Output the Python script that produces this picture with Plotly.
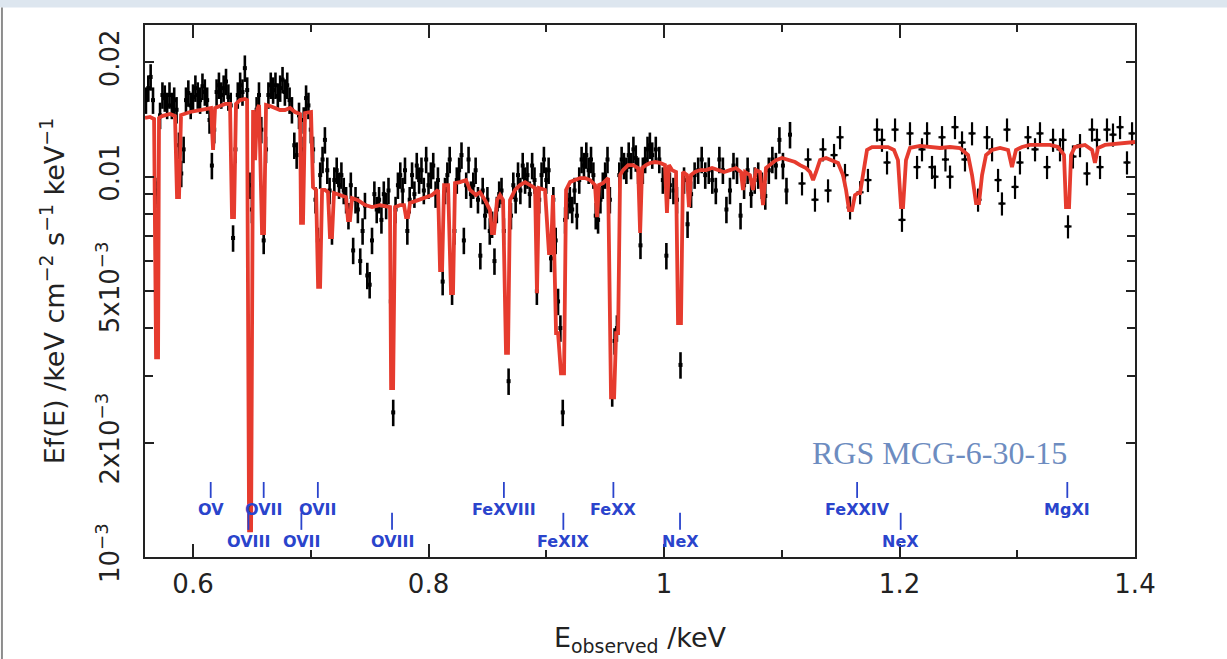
import plotly.graph_objects as go

# ---------------- model (red) ----------------
model_energy = [
    0.5592, 0.5635, 0.5669, 0.5686, 0.5703, 0.5711, 0.5737, 0.5805, 0.5847, 0.5864,
    0.5881, 0.5898, 0.5975, 0.6059, 0.6153, 0.6170, 0.6187, 0.6229, 0.6272, 0.6314,
    0.6331, 0.6348, 0.6365, 0.6399, 0.6442, 0.6459, 0.6476, 0.6493, 0.6510, 0.6527,
    0.6544, 0.6561, 0.6586, 0.6603, 0.6620, 0.6654, 0.6696, 0.6739, 0.6781, 0.6824,
    0.6866, 0.6909, 0.6917, 0.6934, 0.6951, 0.6977, 0.7002, 0.7019, 0.7045, 0.7062,
    0.7079, 0.7096, 0.7121, 0.7146, 0.7163, 0.7180, 0.7197, 0.7248, 0.7299, 0.7316,
    0.7333, 0.7350, 0.7401, 0.7461, 0.7520, 0.7588, 0.7639, 0.7673, 0.7682, 0.7699,
    0.7716, 0.7758, 0.7792, 0.7809, 0.7826, 0.7843, 0.7911, 0.7970, 0.8030, 0.8081,
    0.8098, 0.8115, 0.8132, 0.8166, 0.8191, 0.8208, 0.8225, 0.8268, 0.8318, 0.8352,
    0.8403, 0.8437, 0.8480, 0.8522, 0.8539, 0.8556, 0.8582, 0.8607, 0.8633, 0.8658,
    0.8675, 0.8692, 0.8735, 0.8777, 0.8820, 0.8862, 0.8905, 0.8921, 0.8938, 0.8989,
    0.9023, 0.9040, 0.9057, 0.9083, 0.9100, 0.9125, 0.9151, 0.9168, 0.9202, 0.9244,
    0.9287, 0.9329, 0.9372, 0.9414, 0.9431, 0.9448, 0.9482, 0.9525, 0.9550, 0.9576,
    0.9593, 0.9610, 0.9627, 0.9652, 0.9695, 0.9737, 0.9780, 0.9797, 0.9814, 0.9847,
    0.9881, 0.9924, 0.9966, 1.0008, 1.0025, 1.0042, 1.0068, 1.0102, 1.0119, 1.0144,
    1.0161, 1.0195, 1.0212, 1.0229, 1.0263, 1.0306, 1.0357, 1.0408, 1.0459, 1.0510,
    1.0560, 1.0611, 1.0654, 1.0671, 1.0688, 1.0730, 1.0756, 1.0781, 1.0815, 1.0841,
    1.0866, 1.0900, 1.0951, 1.1002, 1.1053, 1.1113, 1.1155, 1.1206, 1.1240, 1.1266,
    1.1291, 1.1325, 1.1376, 1.1427, 1.1478, 1.1520, 1.1546, 1.1571, 1.1597, 1.1622,
    1.1648, 1.1665, 1.1690, 1.1724, 1.1767, 1.1834, 1.1902, 1.1953, 1.1987, 1.2013,
    1.2030, 1.2055, 1.2089, 1.2174, 1.2259, 1.2344, 1.2429, 1.2514, 1.2582, 1.2616,
    1.2650, 1.2675, 1.2701, 1.2735, 1.2786, 1.2854, 1.2922, 1.2955, 1.2989, 1.3040,
    1.3108, 1.3193, 1.3278, 1.3346, 1.3397, 1.3414, 1.3440, 1.3457, 1.3490, 1.3575,
    1.3635, 1.3660, 1.3686, 1.3745, 1.3830, 1.3915, 1.4000,
]
model_flux = [
    0.01427, 0.01436, 0.01419, 0.00335, 0.00335, 0.01427, 0.01444, 0.01462, 0.01444, 0.00884,
    0.00884, 0.01453, 0.01480, 0.01498, 0.01516, 0.01176, 0.01516, 0.01535, 0.01554, 0.01554,
    0.00783, 0.00783, 0.01554, 0.01591, 0.01601, 0.01591, 0.001175, 0.001175, 0.01498, 0.01106,
    0.01498, 0.01544, 0.00711, 0.00711, 0.01544, 0.01535, 0.01516, 0.01498, 0.01498, 0.01516,
    0.01480, 0.01462, 0.00756, 0.00756, 0.01471, 0.01480, 0.01480, 0.00939, 0.00923, 0.00513,
    0.00513, 0.00923, 0.00923, 0.00911, 0.00694, 0.00694, 0.00906, 0.00895, 0.00884, 0.00769,
    0.00769, 0.00879, 0.00868, 0.00842, 0.00832, 0.00842, 0.00837, 0.00832, 0.00278, 0.00278,
    0.00832, 0.00842, 0.00842, 0.00783, 0.00783, 0.00853, 0.00868, 0.00879, 0.00895, 0.00923,
    0.00568, 0.00568, 0.00951, 0.00951, 0.00494, 0.00494, 0.00962, 0.00968, 0.00980, 0.00923,
    0.00895, 0.00911, 0.00868, 0.00817, 0.00711, 0.00711, 0.00868, 0.00895, 0.00868, 0.00344,
    0.00344, 0.00868, 0.00923, 0.00951, 0.00968, 0.00951, 0.00934, 0.00494, 0.00934, 0.00923,
    0.00630, 0.00630, 0.00895, 0.00388, 0.00388, 0.00304, 0.00304, 0.00923, 0.00968, 0.00980,
    0.00992, 0.00992, 0.00980, 0.00951, 0.00783, 0.00951, 0.00962, 0.00992, 0.00263, 0.00263,
    0.00388, 0.00388, 0.01010, 0.01041, 0.01073, 0.01073, 0.01054, 0.00711, 0.01054, 0.01073,
    0.01087, 0.01093, 0.01087, 0.01073, 0.00803, 0.01073, 0.01041, 0.01029, 0.00412, 0.00412,
    0.01029, 0.01010, 0.00832, 0.01010, 0.01029, 0.01041, 0.01041, 0.01054, 0.01041, 0.01029,
    0.01041, 0.01054, 0.01029, 0.00923, 0.01029, 0.01010, 0.00923, 0.01041, 0.01029, 0.00842,
    0.01054, 0.01073, 0.01106, 0.01120, 0.01106, 0.01093, 0.01073, 0.01054, 0.01029, 0.00980,
    0.01029, 0.01106, 0.01120, 0.01106, 0.01087, 0.01010, 0.00923, 0.00817, 0.00817, 0.00895,
    0.00906, 0.00906, 0.01010, 0.01176, 0.01197, 0.01197, 0.01197, 0.01176, 0.01106, 0.00832,
    0.00832, 0.01106, 0.01190, 0.01205, 0.01197, 0.01190, 0.01197, 0.01190, 0.01141, 0.01010,
    0.00853, 0.00853, 0.01010, 0.01141, 0.01176, 0.01190, 0.01176, 0.01060, 0.01176, 0.01197,
    0.01212, 0.01212, 0.01212, 0.01197, 0.01141, 0.00832, 0.00832, 0.01141, 0.01197, 0.01212,
    0.01176, 0.01087, 0.01190, 0.01212, 0.01219, 0.01227, 0.01234,
]

# ---------------- data (black), fine bins ----------------
data_energy_fine = [
    0.560, 0.562, 0.564, 0.566, 0.568, 0.570, 0.572, 0.574, 0.576, 0.578,
    0.580, 0.582, 0.584, 0.586, 0.588, 0.590, 0.592, 0.594, 0.596, 0.598,
    0.600, 0.602, 0.604, 0.606, 0.608, 0.610, 0.612, 0.614, 0.616, 0.618,
    0.620, 0.622, 0.624, 0.626, 0.628, 0.630, 0.632, 0.634, 0.636, 0.638,
    0.640, 0.642, 0.644, 0.646, 0.648, 0.650, 0.652, 0.654, 0.656, 0.658,
    0.660, 0.662, 0.664, 0.666, 0.668, 0.670, 0.672, 0.674, 0.676, 0.678,
    0.680, 0.682, 0.684, 0.686, 0.688, 0.690, 0.692, 0.694, 0.696, 0.698,
    0.700, 0.702, 0.704, 0.706, 0.708, 0.710, 0.712, 0.714, 0.716, 0.718,
    0.720, 0.722, 0.724, 0.726, 0.728, 0.730, 0.732, 0.734, 0.736, 0.738,
    0.740, 0.742, 0.744, 0.746, 0.748, 0.750, 0.752, 0.754, 0.756, 0.758,
    0.760, 0.762, 0.764, 0.766, 0.768, 0.770, 0.772, 0.774, 0.776, 0.778,
    0.780, 0.782, 0.784, 0.786, 0.788, 0.790, 0.792, 0.794, 0.796, 0.798,
    0.800, 0.802, 0.804, 0.806, 0.808, 0.810, 0.812, 0.814, 0.816, 0.818,
    0.820, 0.822, 0.824, 0.826, 0.828, 0.830, 0.832, 0.834, 0.836, 0.838,
    0.840, 0.842, 0.844, 0.846, 0.848, 0.850, 0.852, 0.854, 0.856, 0.858,
    0.860, 0.862, 0.864, 0.866, 0.868, 0.870, 0.872, 0.874, 0.876, 0.878,
    0.880, 0.882, 0.884, 0.886, 0.888, 0.890, 0.892, 0.894, 0.896, 0.898,
    0.900, 0.902, 0.904, 0.906, 0.908, 0.910, 0.912, 0.914, 0.916, 0.918,
    0.920, 0.922, 0.924, 0.926, 0.928, 0.930, 0.932, 0.934, 0.936, 0.938,
    0.940, 0.942, 0.944, 0.946, 0.948, 0.950, 0.952, 0.954, 0.956, 0.958,
    0.960, 0.962, 0.964, 0.966, 0.968, 0.970, 0.972, 0.974, 0.976, 0.978,
    0.980, 0.982, 0.984, 0.986, 0.988, 0.990,
    0.993, 0.996, 0.999, 1.002, 1.005, 1.008, 1.011, 1.014, 1.017, 1.020,
    1.023, 1.026, 1.029, 1.032, 1.035, 1.038, 1.041, 1.044, 1.047, 1.050,
    1.053, 1.056, 1.059, 1.062, 1.065, 1.068, 1.071, 1.074, 1.077, 1.080,
    1.083, 1.086, 1.089, 1.092, 1.095, 1.098, 1.101, 1.104, 1.107,
]
data_flux_fine = [
    0.0159, 0.0171, 0.0183, 0.0159, 0.0092, 0.0090, 0.0145, 0.0164, 0.0161, 0.0154,
    0.0164, 0.0154, 0.0159, 0.0150, 0.0121, 0.0102, 0.0118, 0.0159, 0.0166, 0.0154,
    0.0162, 0.0171, 0.0164, 0.0159, 0.0173, 0.0167, 0.0159, 0.0141, 0.0107, 0.0133,
    0.0167, 0.0174, 0.0164, 0.0171, 0.0178, 0.0162, 0.0154, 0.0069, 0.0118, 0.0164,
    0.0174, 0.0167, 0.0193, 0.0169, 0.0095, 0.0082, 0.0125, 0.0150, 0.0164, 0.0133,
    0.0068, 0.0118, 0.0164, 0.0174, 0.0169, 0.0174, 0.0163, 0.0171, 0.0180, 0.0167,
    0.0174, 0.0159, 0.0150, 0.0121, 0.0114, 0.0145, 0.0118, 0.0141, 0.0161, 0.0154,
    0.0133, 0.0118, 0.0087, 0.0068, 0.0101, 0.0111, 0.0125, 0.0104, 0.0092, 0.0072,
    0.0098, 0.0104, 0.0095, 0.0101, 0.0092, 0.0087, 0.0079, 0.0095, 0.0064, 0.0087,
    0.0082, 0.0060, 0.0072, 0.0084, 0.0055, 0.0052, 0.0068, 0.0090, 0.0082, 0.0087,
    0.0077, 0.0090, 0.0084, 0.0092, 0.0047, 0.0024, 0.0082, 0.0095, 0.0101, 0.0092,
    0.0104, 0.0072, 0.0087, 0.0101, 0.0090, 0.0107, 0.0098, 0.0104, 0.0092, 0.0111,
    0.0095, 0.0101, 0.0107, 0.0090, 0.0098, 0.0064, 0.0053, 0.0092, 0.0101, 0.0111,
    0.0050, 0.0072, 0.0098, 0.0104, 0.0114, 0.0068, 0.0095, 0.0111, 0.0090, 0.0095,
    0.0104, 0.0087, 0.0062, 0.0092, 0.0079, 0.0087, 0.0072, 0.0075, 0.0060, 0.0082,
    0.0090, 0.0092, 0.0072, 0.0040, 0.0029, 0.0079, 0.0095, 0.0087, 0.0101, 0.0092,
    0.0107, 0.0098, 0.0101, 0.0090, 0.0107, 0.0098, 0.0050, 0.0087, 0.0101, 0.0111,
    0.0098, 0.0104, 0.0061, 0.0087, 0.0068, 0.0047, 0.0040, 0.0024, 0.0077, 0.0084,
    0.0087, 0.0082, 0.0092, 0.0079, 0.0098, 0.0111, 0.0107, 0.0114, 0.0104, 0.0111,
    0.0101, 0.0079, 0.0077, 0.0087, 0.0095, 0.0101, 0.0111, 0.0087, 0.0027, 0.0037,
    0.0040, 0.0101, 0.0111, 0.0107, 0.0104, 0.0114, 0.0107, 0.0118, 0.0112, 0.0104,
    0.0066, 0.0104, 0.0111, 0.0118, 0.0121, 0.0114,
    0.0118, 0.0111, 0.0098, 0.0062, 0.0095, 0.0092, 0.0087, 0.0032, 0.0098, 0.0075,
    0.0090, 0.0101, 0.0104, 0.0111, 0.0101, 0.0104, 0.0098, 0.0092, 0.0111, 0.0104,
    0.0082, 0.0092, 0.0107, 0.0104, 0.0079, 0.0095, 0.0104, 0.0090, 0.0098, 0.0101,
    0.0095, 0.0089, 0.0104, 0.0111, 0.0107, 0.0125, 0.0107, 0.0092, 0.0129,
]

# ---------------- data (black), coarse bins ----------------
data_energy_coarse = [
    1.1172, 1.1223, 1.1282, 1.1350, 1.1393, 1.1444, 1.1495, 1.1537, 1.1580, 1.1665,
    1.1732, 1.1809, 1.1851, 1.1894, 1.1962, 1.2021, 1.2089, 1.2149, 1.2191, 1.2234,
    1.2276, 1.2301, 1.2361, 1.2390, 1.2429, 1.2471, 1.2531, 1.2556, 1.2616, 1.2667,
    1.2743, 1.2786, 1.2837, 1.2870, 1.2913, 1.2981, 1.3023, 1.3091, 1.3151, 1.3193,
    1.3253, 1.3304, 1.3363, 1.3389, 1.3431, 1.3473, 1.3533, 1.3592, 1.3635, 1.3677,
    1.3703, 1.3762, 1.3813, 1.3873, 1.3932, 1.3975,
]
data_flux_coarse = [
    0.0096, 0.0111, 0.0087, 0.0118, 0.0092, 0.0114, 0.0127, 0.0101, 0.0083, 0.0091,
    0.0098, 0.0133, 0.0125, 0.0109, 0.0133, 0.0077, 0.0130, 0.0106, 0.0118, 0.0130,
    0.0106, 0.0100, 0.0127, 0.0111, 0.0100, 0.0135, 0.0123, 0.0111, 0.0130, 0.0087,
    0.0127, 0.0118, 0.0098, 0.0085, 0.0133, 0.0094, 0.0109, 0.0127, 0.0118, 0.0130,
    0.0106, 0.0125, 0.0118, 0.0125, 0.0074, 0.0113, 0.0121, 0.0102, 0.0133, 0.0125,
    0.0106, 0.0133, 0.0129, 0.0135, 0.0109, 0.0130,
]

assert len(model_energy) == len(model_flux)
assert len(data_energy_fine) == len(data_flux_fine)
assert len(data_energy_coarse) == len(data_flux_coarse)

# ---------------- line identifications ----------------
line_energy_upper = [0.615, 0.660, 0.706, 0.864, 0.957, 1.164, 1.3425]
line_label_upper = ["OV", "OVII", "OVII", "FeXVIII", "FeXX", "FeXXIV", "MgXI"]
line_energy_lower = [0.647, 0.692, 0.769, 0.9145, 1.0136, 1.201]
line_label_lower = ["OVIII", "OVII", "OVIII", "FeXIX", "NeX", "NeX"]

# ---------------- axes ----------------
x_range = [0.5592, 1.4]
x_tick_vals = [0.6, 0.8, 1.0, 1.2, 1.4]
x_tick_text = ["0.6", "0.8", "1", "1.2", "1.4"]
x_minor_vals = [0.7, 0.9, 1.1, 1.3]
y_range_log = [-3, -1.601]
y_tick_vals = [0.001, 0.002, 0.005, 0.01, 0.02]
y_tick_text = ["10<sup>−3</sup>", "2x10<sup>−3</sup>", "5x10<sup>−3</sup>", "0.01", "0.02"]
y_minor_vals = [0.003, 0.004, 0.006, 0.007, 0.008, 0.009]

BLUE = "#2a44cc"
RED = "#e63b2e"
AXIS = "#222222"
FONT = "DejaVu Sans"

fig = go.Figure()

fig.add_trace(go.Scatter(
    x=data_energy_fine, y=data_flux_fine, mode="markers",
    marker=dict(color="black", size=4, symbol="square"),
    error_y=dict(type="percent", value=8, color="black", thickness=2.6, width=0),
    showlegend=False, hoverinfo="x+y",
))
fig.add_trace(go.Scatter(
    x=data_energy_coarse, y=data_flux_coarse, mode="markers",
    marker=dict(color="black", size=3, symbol="square"),
    error_y=dict(type="percent", value=7, color="black", thickness=2.2, width=0),
    error_x=dict(type="constant", value=0.003, color="black", thickness=2.2, width=0),
    showlegend=False, hoverinfo="x+y",
))
fig.add_trace(go.Scatter(
    x=model_energy, y=model_flux, mode="lines",
    line=dict(color=RED, width=3.8),
    showlegend=False, hoverinfo="x+y",
))

# line id ticks and labels
for e, lab in zip(line_energy_upper, line_label_upper):
    fig.add_shape(type="line", xref="x", yref="paper", x0=e, x1=e, y0=0.111, y1=0.141,
                  line=dict(color=BLUE, width=1.8))
    fig.add_annotation(x=e, y=0.090, xref="x", yref="paper", text=lab, showarrow=False,
                       font=dict(family=FONT, size=16, color=BLUE, weight="bold"),
                       xanchor="center", yanchor="middle")
for e, lab in zip(line_energy_lower, line_label_lower):
    fig.add_shape(type="line", xref="x", yref="paper", x0=e, x1=e, y0=0.051, y1=0.083,
                  line=dict(color=BLUE, width=1.8))
    fig.add_annotation(x=e, y=0.030, xref="x", yref="paper", text=lab, showarrow=False,
                       font=dict(family=FONT, size=16, color=BLUE, weight="bold"),
                       xanchor="center", yanchor="middle")

fig.add_annotation(x=0.803, y=0.195, xref="paper", yref="paper", text="RGS MCG-6-30-15",
                   showarrow=False, font=dict(family="Liberation Serif", size=32, color="#6d8cc0"),
                   xanchor="center", yanchor="middle")

# slide decoration: top band and left rule
fig.add_shape(type="rect", xref="paper", yref="paper", x0=-0.2, x1=1.2, y0=1.033, y1=1.06,
              fillcolor="#dde6ef", line=dict(width=0), layer="below")
fig.add_shape(type="line", xref="paper", yref="paper", x0=-0.1445, x1=-0.1445, y0=-0.2, y1=1.033,
              line=dict(color="#8c8c8c", width=2))

fig.update_xaxes(
    range=x_range, tickmode="array", tickvals=x_tick_vals, ticktext=x_tick_text,
    ticks="inside", ticklen=13, tickwidth=2, tickcolor=AXIS,
    minor=dict(tickmode="array", tickvals=x_minor_vals, ticks="inside", ticklen=7,
               tickwidth=2, tickcolor=AXIS, showgrid=False),
    showline=True, linecolor=AXIS, linewidth=2, mirror="ticks",
    showgrid=False, zeroline=False,
    tickfont=dict(family=FONT, size=26, color="#222"),
    ticklabelstandoff=3,
    title=dict(text="E<sub>observed</sub> /keV", font=dict(family=FONT, size=27, color="#222"),
               standoff=30),
)
fig.update_yaxes(
    type="log", range=y_range_log, tickmode="array", tickvals=y_tick_vals, ticktext=y_tick_text,
    ticks="inside", ticklen=9, tickwidth=2, tickcolor=AXIS,
    minor=dict(tickmode="array", tickvals=y_minor_vals, ticks="inside", ticklen=8,
               tickwidth=2, tickcolor=AXIS, showgrid=False),
    showline=True, linecolor=AXIS, linewidth=2, mirror="ticks",
    showgrid=False, zeroline=False, tickangle=-90,
    tickfont=dict(family=FONT, size=26, color="#222"),
    ticklabelstandoff=14,
    title=dict(text="Ef(E) /keV cm<sup>−2</sup> s<sup>−1</sup> keV<sup>−1</sup>",
               font=dict(family=FONT, size=27, color="#222"), standoff=18),
)

fig.update_layout(
    width=1227, height=659,
    margin=dict(l=145, r=92, t=25, b=102),
    paper_bgcolor="white", plot_bgcolor="white",
    showlegend=False,
)

fig.write_html("out.html")
